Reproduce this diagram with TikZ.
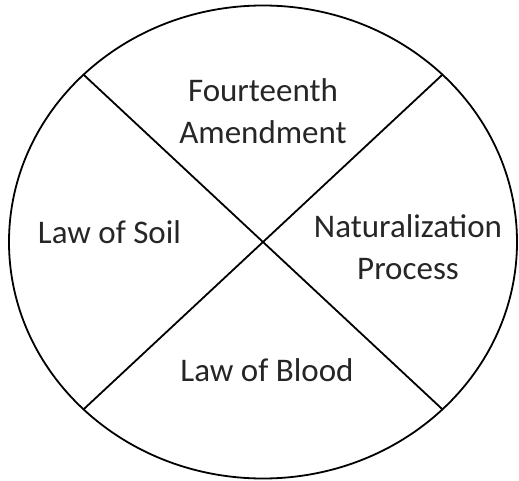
\documentclass[tikz,border=0pt]{standalone}
\usepackage{fontspec}
\setmainfont{Carlito}
\usetikzlibrary{shapes.geometric}

\begin{document}
\begin{tikzpicture}[x=1pt,y=1pt,line width=1.8pt,
    quarter/.style={font=\fontsize{33}{42}\selectfont,align=center,text=black!85,inner sep=0pt,anchor=base}]
        \useasboundingbox (0,0) rectangle (519,480);
        \node[ellipse,draw,outer sep=0pt,inner sep=0pt,minimum width=508pt,minimum height=473pt] (disc) at (263,238) {};
        \node[quarter] (fourteenth) at (263,336) {Fourteenth\\Amendment};
        \node[quarter] (soil) at (109.5,237) {Law of Soil};
        \node[quarter] (naturalization) at (408,201) {Naturalization\\Process};
        \node[quarter] (blood) at (267,99) {Law of Blood};
             \path[draw]
        (disc.137) -- (disc.-43)
        (disc.43) -- (disc.-137);
\end{tikzpicture}
\end{document}
